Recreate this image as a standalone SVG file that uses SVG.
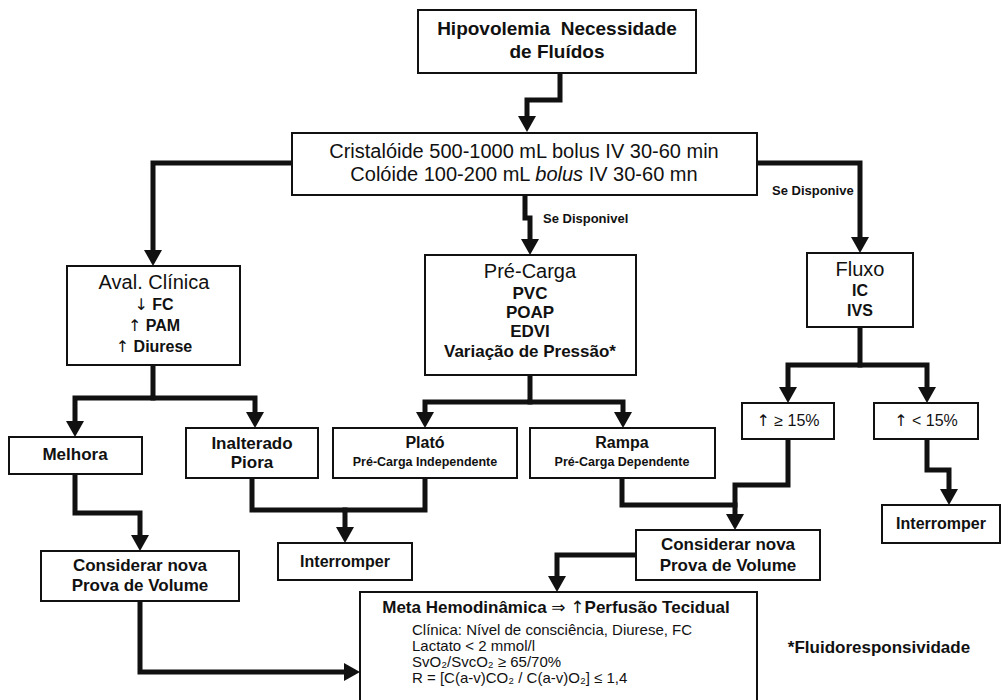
<svg xmlns="http://www.w3.org/2000/svg" width="1006" height="700" viewBox="0 0 1006 700">
<style>
text{font-family:"Liberation Sans",Arial,"DejaVu Sans",sans-serif;fill:#111;text-anchor:middle}
.ar{font-family:"DejaVu Sans",sans-serif;font-weight:normal}
.box{fill:#fff;stroke:#111;stroke-width:2}
.t{font-size:20px}
.h{font-size:19px;font-weight:bold}
.b{font-size:17px;font-weight:bold}
.b16{font-size:16px;font-weight:bold}
.s{font-size:12.5px;font-weight:bold}
.lab{font-size:13px;font-weight:bold;text-anchor:start}
.m{font-size:15px;text-anchor:start}
.c{fill:none;stroke:#111;stroke-width:5;stroke-linejoin:miter;stroke-linecap:square}
</style>
<defs>
<marker id="ah" markerUnits="userSpaceOnUse" markerWidth="18" markerHeight="18" viewBox="0 0 18 18" refX="4" refY="9" orient="auto">
<path d="M0,0 L16,9 L0,18 z" fill="#111"/>
</marker>
</defs>
<rect width="1006" height="700" fill="#fff"/>
<g id="connectors">
<path class="c" marker-end="url(#ah)" d="M560,73 V100 H527 V120"/>
<path class="c" marker-end="url(#ah)" d="M292,163 H153 V254"/>
<path class="c" marker-end="url(#ah)" d="M525,195 V218 H530 V243"/>
<path class="c" marker-end="url(#ah)" d="M757,163 H860 V241"/>
<path class="c" marker-end="url(#ah)" d="M153,365 V398 H75 V425"/>
<path class="c" marker-end="url(#ah)" d="M153,398 H255 V416"/>
<path class="c" marker-end="url(#ah)" d="M75,474 V513 H140 V539"/>
<path class="c" marker-end="url(#ah)" d="M140,601 V672 H348"/>
<path class="c" marker-end="url(#ah)" d="M252,478 V510 H345 V531"/>
<path class="c" d="M425,478 V510 H345"/>
<path class="c" marker-end="url(#ah)" d="M530,375 V402 H425 V416"/>
<path class="c" marker-end="url(#ah)" d="M530,402 H623 V416"/>
<path class="c" d="M622,478 V505 H735"/>
<path class="c" marker-end="url(#ah)" d="M788,439 V485 H735 V518"/>
<path class="c" marker-end="url(#ah)" d="M636,555 H557 V580"/>
<path class="c" marker-end="url(#ah)" d="M860,327 V365 H788 V391"/>
<path class="c" marker-end="url(#ah)" d="M860,365 H927 V391"/>
<path class="c" marker-end="url(#ah)" d="M927,439 V470 H949 V493"/>
<text class="lab" x="543" y="223">Se Disponivel</text>
<text class="lab" x="772" y="195">Se Disponive</text>
</g>
<g id="n-hipovolemia">
<rect class="box" x="418" y="10" width="278" height="63"/>
<text class="h" x="557" y="35" xml:space="preserve">Hipovolemia  Necessidade</text>
<text class="h" x="557" y="58">de Fluídos</text>
</g>
<g id="n-cristaloide">
<rect class="box" x="292" y="133" width="465" height="62"/>
<text class="t" x="524" y="158">Cristalóide 500-1000 mL bolus IV 30-60 min</text>
<text class="t" x="524" y="181">Colóide 100-200 mL <tspan font-style="italic">bolus</tspan> IV 30-60 mn</text>
</g>
<g id="n-aval">
<rect class="box" x="67" y="266" width="173" height="99"/>
<text class="t" x="154" y="289">Aval. Clínica</text>
<text class="b16" x="154" y="310"><tspan class="ar">↓</tspan> FC</text>
<text class="b16" x="154" y="331"><tspan class="ar">↑</tspan> PAM</text>
<text class="b16" x="154" y="352"><tspan class="ar">↑</tspan> Diurese</text>
</g>
<g id="n-precarga">
<rect class="box" x="425" y="255" width="211" height="120"/>
<text class="t" x="530" y="278">Pré-Carga</text>
<text class="b" x="530" y="299">PVC</text>
<text class="b" x="530" y="318">POAP</text>
<text class="b" x="530" y="337">EDVI</text>
<text class="b" x="530" y="357">Variação de Pressão*</text>
</g>
<g id="n-fluxo">
<rect class="box" x="807" y="253" width="106" height="74"/>
<text class="t" x="860" y="276">Fluxo</text>
<text class="b16" x="860" y="296">IC</text>
<text class="b16" x="860" y="316">IVS</text>
</g>
<g id="n-melhora">
<rect class="box" x="9" y="437" width="133" height="37"/>
<text class="b" x="75" y="460">Melhora</text>
</g>
<g id="n-inalterado">
<rect class="box" x="186" y="428" width="132" height="50"/>
<text class="b" x="252" y="449">Inalterado</text>
<text class="b" x="252" y="468">Piora</text>
</g>
<g id="n-plato">
<rect class="box" x="333" y="428" width="184" height="50"/>
<text class="b16" x="425" y="448">Plató</text>
<text class="s" x="425" y="466">Pré-Carga Independente</text>
</g>
<g id="n-rampa">
<rect class="box" x="530" y="428" width="185" height="50"/>
<text class="b16" x="622" y="448">Rampa</text>
<text class="s" x="622" y="466">Pré-Carga Dependente</text>
</g>
<g id="n-maior15">
<rect class="box" x="742" y="403" width="92" height="36"/>
<text class="t" x="788" y="426" style="font-size:16px"><tspan class="ar">↑</tspan> ≥ 15%</text>
</g>
<g id="n-menor15">
<rect class="box" x="874" y="403" width="104" height="36"/>
<text class="t" x="926" y="426" style="font-size:16px"><tspan class="ar">↑</tspan> &lt; 15%</text>
</g>
<g id="n-interromper-dir">
<rect class="box" x="882" y="505" width="118" height="38"/>
<text class="b16" x="941" y="529">Interromper</text>
</g>
<g id="n-considerar-esq">
<rect class="box" x="41" y="551" width="198" height="50"/>
<text class="b" x="140" y="571">Considerar nova</text>
<text class="b" x="140" y="591">Prova de Volume</text>
</g>
<g id="n-interromper-meio">
<rect class="box" x="278" y="543" width="134" height="37"/>
<text class="b16" x="345" y="567">Interromper</text>
</g>
<g id="n-considerar-dir">
<rect class="box" x="636" y="530" width="184" height="50"/>
<text class="b" x="728" y="550">Considerar nova</text>
<text class="b" x="728" y="571">Prova de Volume</text>
</g>
<g id="n-meta">
<rect class="box" x="360" y="592" width="397" height="112"/>
<text class="b" x="556" y="613">Meta Hemodinâmica <tspan class="ar">⇒</tspan> <tspan class="ar">↑</tspan>Perfusão Tecidual</text>
<text class="m" x="412" y="635">Clínica: Nível de consciência, Diurese, FC</text>
<text class="m" x="412" y="651">Lactato &lt; 2 mmol/l</text>
<text class="m" x="412" y="667">SvO₂/SvcO₂ ≥ 65/70%</text>
<text class="m" x="412" y="683">R = [C(a-v)CO₂ / C(a-v)O₂] ≤ 1,4</text>
</g>
<g id="n-nota">
<text class="b" x="879" y="653">*Fluidoresponsividade</text>
</g>
</svg>
